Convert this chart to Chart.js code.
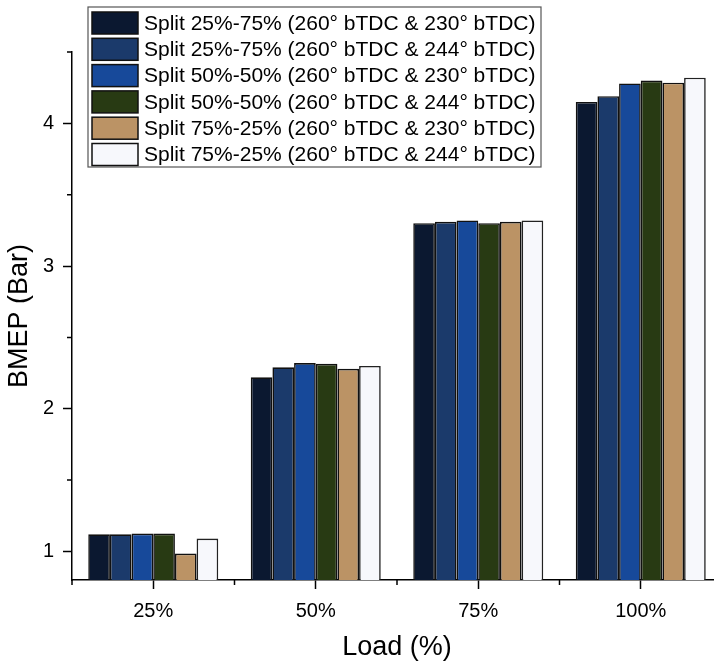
<!DOCTYPE html>
<html>
<head>
<meta charset="utf-8">
<script src="https://cdn.jsdelivr.net/npm/chart.js@4/dist/chart.umd.min.js"></script>
<style>
html,body{margin:0;padding:0;background:#fff;overflow:hidden;width:714px;height:661px;}
canvas{display:block;}
</style>
</head>
<body>
<canvas id="c" width="740" height="661" style="width:740px;height:661px"></canvas>
<script>
const categories = ['25%', '50%', '75%', '100%'];
const seriesLabels = [
  'Split 25%-75% (260° bTDC & 230° bTDC)',
  'Split 25%-75% (260° bTDC & 244° bTDC)',
  'Split 50%-50% (260° bTDC & 230° bTDC)',
  'Split 50%-50% (260° bTDC & 244° bTDC)',
  'Split 75%-25% (260° bTDC & 230° bTDC)',
  'Split 75%-25% (260° bTDC & 244° bTDC)'
];
const s1 = [1.12, 2.22, 3.30, 4.15];
const s2 = [1.12, 2.29, 3.31, 4.19];
const s3 = [1.125, 2.32, 3.32, 4.28];
const s4 = [1.125, 2.315, 3.30, 4.30];
const s5 = [0.985, 2.28, 3.31, 4.285];
const s6 = [1.09, 2.30, 3.32, 4.32];
const seriesColors = ['#0b1830', '#1b3a6b', '#17499a', '#283a13', '#bb9365', '#f7f8fc'];
const majorY = [1, 2, 3, 4];
const minorY = [1.5, 2.5, 3.5, 4.5];
const yMin = 0.8, yMax = 4.5;

const FONT = "'Liberation Sans', Arial, sans-serif";

const minorTicks = {
  id: 'minorTicks',
  afterDraw(chart) {
    const ctx = chart.ctx;
    const y = chart.scales.y, x = chart.scales.x;
    ctx.save();
    ctx.strokeStyle = '#000';
    ctx.lineWidth = 1.5;
    ctx.beginPath();
    minorY.forEach(v => {
      const py = y.getPixelForValue(v);
      ctx.moveTo(chart.chartArea.left - 5, py);
      ctx.lineTo(chart.chartArea.left, py);
    });
    for (let i = 0; i <= categories.length; i++) {
      const px = x.getPixelForValue(i - 0.5);
      ctx.moveTo(px, chart.chartArea.bottom);
      ctx.lineTo(px, chart.chartArea.bottom + 5);
    }
    ctx.stroke();
    ctx.restore();
  }
};

const boxLegend = {
  id: 'boxLegend',
  afterDraw(chart) {
    const ctx = chart.ctx;
    const ds = chart.data.datasets;
    const left = 88, top = 7, w = 453, h = 160;
    ctx.save();
    ctx.fillStyle = '#fff';
    ctx.fillRect(left, top, w, h);
    ctx.strokeStyle = '#555';
    ctx.lineWidth = 1.2;
    ctx.strokeRect(left, top, w, h);
    ctx.font = '21px ' + FONT;
    ctx.textBaseline = 'middle';
    ds.forEach((d, i) => {
      const ry = 12 + i * 26.3;
      ctx.fillStyle = d.backgroundColor;
      ctx.fillRect(92, ry, 46, 22);
      ctx.strokeStyle = '#111';
      ctx.lineWidth = 1.5;
      ctx.strokeRect(92, ry, 46, 22);
      ctx.fillStyle = '#000';
      ctx.fillText(d.label, 144, ry + 12);
    });
    ctx.restore();
  }
};

const allSeries = [s1, s2, s3, s4, s5, s6];
new Chart(document.getElementById('c'), {
  type: 'bar',
  data: {
    labels: categories,
    datasets: allSeries.map((s, i) => ({
      label: seriesLabels[i],
      data: s,
      backgroundColor: seriesColors[i],
      borderColor: i === 5 ? '#222' : '#111',
      borderWidth: 1.6,
      borderSkipped: 'bottom',
      categoryPercentage: 0.8,
      barPercentage: 1.0
    }))
  },
  options: {
    responsive: false,
    animation: false,
    devicePixelRatio: 1,
    layout: { padding: { left: 0, top: 52, right: 18, bottom: 0 }, autoPadding: false },
    plugins: { legend: { display: false }, tooltip: { enabled: false } },
    scales: {
      x: {
        grid: { display: true, drawOnChartArea: false, offset: false, tickLength: 9, tickWidth: 1.5, tickColor: '#000' },
        border: { display: true, color: '#000', width: 1.5 },
        ticks: { color: '#000', font: { family: FONT, size: 20 }, padding: 10, maxRotation: 0 },
        title: { display: true, text: 'Load (%)', color: '#000', font: { family: FONT, size: 27, lineHeight: 1 }, padding: { top: 0, bottom: 0 } },
        afterFit(s) { s.height = 81; }
      },
      y: {
        min: yMin, max: yMax,
        afterBuildTicks(s) { s.ticks = majorY.map(v => ({ value: v })); },
        grid: { display: true, drawOnChartArea: false, tickLength: 9, tickWidth: 1.5, tickColor: '#000' },
        border: { display: true, color: '#000', width: 1.5 },
        ticks: { color: '#000', font: { family: FONT, size: 20 }, padding: 9 },
        title: { display: true, text: 'BMEP (Bar)', color: '#000', font: { family: FONT, size: 27, lineHeight: 1 }, padding: { top: 6, bottom: 0 } },
        afterFit(s) { s.width = 72; }
      }
    }
  },
  plugins: [minorTicks, boxLegend]
});
</script>
</body>
</html>
